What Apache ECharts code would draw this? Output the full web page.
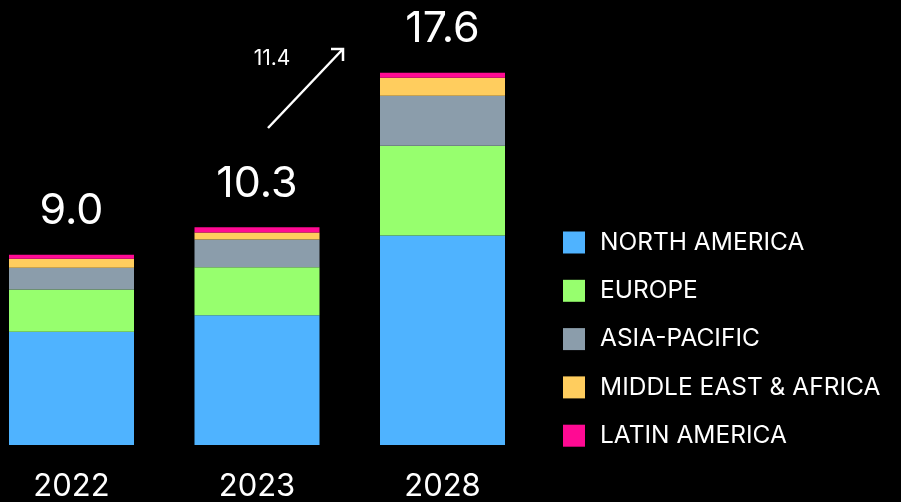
<!DOCTYPE html>
<html>
<head>
<meta charset="utf-8">
<script src="https://cdn.jsdelivr.net/npm/echarts@6/dist/echarts.min.js"></script>
<style>
  html, body { margin: 0; padding: 0; background: #000; }
  #chart { width: 901px; height: 502px; }
</style>
</head>
<body>
<div id="chart"></div>
<script>
// Market size by region (USD bn)
const years = ['2022', '2023', '2028'];
const regions = ['NORTH AMERICA', 'EUROPE', 'ASIA-PACIFIC', 'MIDDLE EAST & AFRICA', 'LATIN AMERICA'];
const northAmerica = [5.35, 6.13, 9.90];
const europe = [2.00, 2.27, 4.25];
const asiaPacific = [1.03, 1.32, 2.36];
const middleEastAfrica = [0.43, 0.33, 0.85];
const latinAmerica = [0.19, 0.25, 0.24];
const totals = [9.0, 10.3, 17.6];
const growthLabel = '11.4';

const colors = ['#4fb3ff', '#97ff6e', '#8b9dab', '#ffcd5e', '#ff0a93'];
const fontFamily = 'Inter, "Liberation Sans", sans-serif';

const seriesData = [northAmerica, europe, asiaPacific, middleEastAfrica, latinAmerica];

const series = seriesData.map((values, i) => {
  const s = {
    name: regions[i],
    type: 'bar',
    stack: 'total',
    barWidth: 125,
    data: values,
    itemStyle: { color: colors[i] },
    emphasis: { disabled: true }
  };
  if (i === seriesData.length - 1) {
    // total value above each stack
    s.label = {
      show: true,
      position: 'top',
      distance: 22,
      color: '#fff',
      fontSize: 43,
      fontFamily: fontFamily,
      formatter: p => totals[p.dataIndex].toFixed(1)
    };
  }
  return s;
});

const chart = echarts.init(document.getElementById('chart'));
chart.setOption({
  backgroundColor: '#000',
  animation: false,
  grid: { left: 71.5, width: 371, top: 22, height: 424 },
  xAxis: {
    type: 'category',
    data: years,
    boundaryGap: false,
    axisLine: { show: false },
    axisTick: { show: false },
    axisLabel: { color: '#fff', fontSize: 31, fontFamily: fontFamily, margin: 26 }
  },
  yAxis: {
    type: 'value',
    min: 0,
    max: 20,
    show: false,
    splitLine: { show: false }
  },
  legend: {
    orient: 'vertical',
    left: 558,
    top: 225,
    itemWidth: 22,
    itemHeight: 22,
    itemGap: 23.3,
    icon: 'rect',
    data: regions,
    selectedMode: false,
    textStyle: { color: '#fff', fontSize: 24.5, fontFamily: fontFamily, padding: [0, 0, 0, 10] }
  },
  graphic: [
    {
      type: 'line',
      shape: { x1: 268, y1: 128, x2: 342, y2: 50 },
      style: { stroke: '#fff', lineWidth: 2.5 }
    },
    {
      type: 'polyline',
      shape: { points: [[331, 49], [343, 49], [343, 61]] },
      style: { stroke: '#fff', lineWidth: 2.5, fill: null }
    },
    {
      type: 'text',
      x: 272,
      y: 59,
      style: {
        text: growthLabel,
        fill: '#fff',
        fontSize: 21,
        fontFamily: fontFamily,
        align: 'center',
        verticalAlign: 'middle'
      }
    }
  ],
  series: series
});
</script>
</body>
</html>
